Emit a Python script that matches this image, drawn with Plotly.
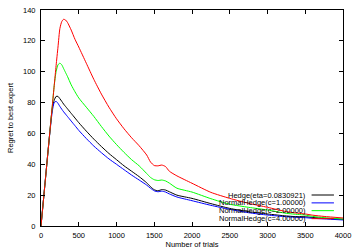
import plotly.graph_objects as go

trials = [0, 50, 100, 150, 175, 200, 225, 250, 275, 300, 325, 350, 400, 450, 500,
          600, 700, 800, 900, 1000, 1100, 1200, 1300, 1400, 1450, 1500, 1550, 1600,
          1650, 1700, 1800, 2000, 2250, 2500, 2750, 3000, 3250, 3400, 3500, 3600,
          3750, 4000]

hedge = [0, 26, 52, 76.5, 81.5, 84, 84, 82.5, 80.8, 79, 77.5, 76, 73, 70, 67,
         61.5, 56.3, 51.5, 47, 43, 39, 35.5, 32, 28, 25.5, 23.5, 22.8, 23.6,
         23.3, 22.2, 20, 17.9, 14.5, 11.4, 9.3, 7.8, 6.5, 6.0, 6.0, 5.5,
         5.0, 4.3]

normal_c1 = [0, 26, 52, 74.5, 80, 80.8, 79.5, 77.5, 75.7, 74, 72.5, 71, 68, 65, 62,
             56.7, 51.8, 47.5, 43.5, 40, 36.5, 33, 29.8, 26.5, 24.5, 22.8, 22.2, 22.6,
             22.0, 20.8, 18.8, 16.4, 13.4, 10.8, 8.6, 7.1, 6.0, 5.6, 5.4, 5.0,
             4.6, 3.9]

normal_c2 = [0, 26, 52, 78, 91, 100, 104.5, 105.5, 104.5, 102, 99.5, 97, 91.5, 87, 83,
             77, 71, 64.5, 58.3, 52.8, 47.7, 43, 39, 34, 31.5, 30, 29.5, 29.8,
             29.2, 27.8, 24.5, 22.0, 17.7, 14.1, 12.1, 10.4, 8.2, 7.5, 7.1, 6.2,
             5.4, 4.5]

normal_c4 = [0, 26, 52, 78, 91, 104, 116, 128, 132.5, 134, 133.5, 132, 127, 121, 116,
             105.5, 95, 85.5, 77, 69.5, 63, 57.2, 52, 46, 41.5, 39.2, 39, 39.5,
             38.5, 35.5, 32.5, 27.7, 21.8, 17.9, 14.7, 12.1, 9.3, 8.3, 7.8, 7.0,
             6.2, 5.2]

series_names = ["Hedge(eta=0.0830921)", "NormalHedge(c=1.00000)",
                "NormalHedge(c=2.00000)", "NormalHedge(c=4.00000)"]
series_values = [hedge, normal_c1, normal_c2, normal_c4]
series_colors = ["#000000", "#0000ff", "#00ff00", "#ff0000"]

x_ticks = [0, 500, 1000, 1500, 2000, 2500, 3000, 3500, 4000]
y_ticks = [0, 20, 40, 60, 80, 100, 120, 140]

FONT = "Liberation Sans, Arial, sans-serif"
FS = 7.5

fig = go.Figure()
for name, vals, col in zip(series_names, series_values, series_colors):
    fig.add_trace(go.Scatter(x=trials, y=vals, mode="lines", name=name,
                             line=dict(color=col, width=1, shape="spline", smoothing=0.6)))

# gnuplot-style legend: right-aligned text with line sample on the right
row_y = [0.1435, 0.107, 0.071, 0.034]
shapes = []
annotations = []
for name, col, yy in zip(series_names, series_colors, row_y):
    annotations.append(dict(x=0.884, y=yy, xref="paper", yref="paper",
                            text=name, showarrow=False, xanchor="right",
                            yanchor="middle", font=dict(family=FONT, size=FS, color="#000")))
    shapes.append(dict(type="line", xref="paper", yref="paper",
                       x0=0.896, x1=0.970, y0=yy, y1=yy,
                       line=dict(color=col, width=1)))

axis_common = dict(showgrid=False, zeroline=False, showline=True, linecolor="#000",
                   linewidth=1, mirror="ticks", ticks="inside", ticklen=4,
                   tickcolor="#000", tickwidth=1, automargin=False,
                   tickfont=dict(family=FONT, size=FS, color="#000"))

fig.update_layout(
    width=357, height=250,
    margin=dict(l=41, r=14, t=10, b=24),
    paper_bgcolor="white", plot_bgcolor="white",
    showlegend=False,
    shapes=shapes, annotations=annotations,
    xaxis=dict(range=[0, 4000], tickvals=x_ticks, ticklabelstandoff=2,
               title=dict(text="Number of trials", standoff=2,
                          font=dict(family=FONT, size=FS, color="#000")),
               **axis_common),
    yaxis=dict(range=[0, 140], tickvals=y_ticks, ticklabelstandoff=3,
               title=dict(text="Regret to best expert", standoff=8,
                          font=dict(family=FONT, size=FS, color="#000")),
               **axis_common),
)

fig.write_html("out.html", config={"displayModeBar": False},
               post_script="document.body.style.margin='0px';document.body.style.overflow='hidden';")
